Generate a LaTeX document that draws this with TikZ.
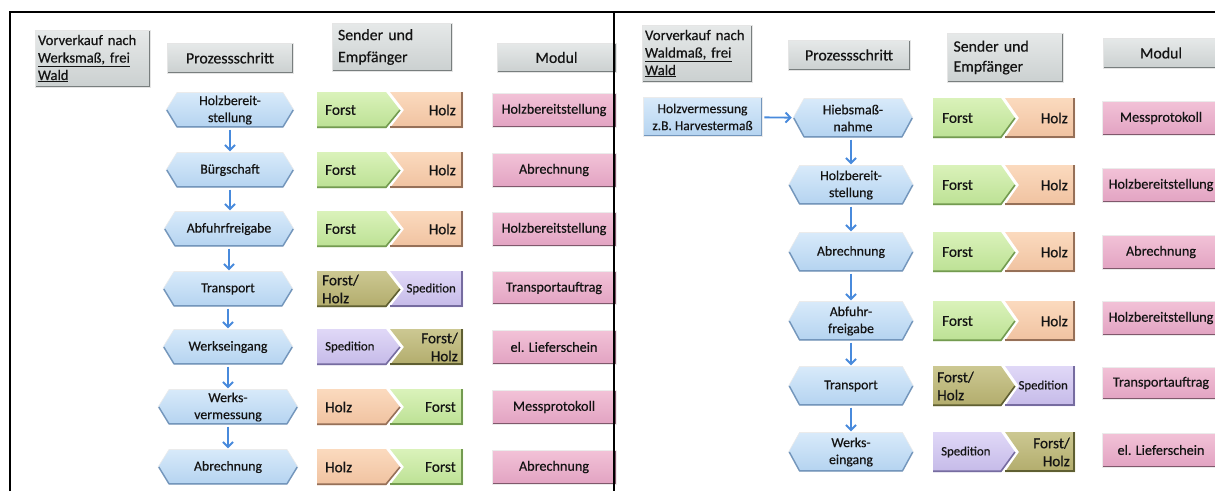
\documentclass[tikz,border=0pt]{standalone}
\usepackage{fontspec}
\setmainfont{Carlito}[FakeBold=0.45]
\usetikzlibrary{arrows.meta}
\definecolor{txt}{RGB}{20,20,20}
\definecolor{grayA}{RGB}{230,233,233}
\definecolor{grayB}{RGB}{203,208,208}
\definecolor{grayE}{RGB}{120,126,126}
\definecolor{blueA}{RGB}{216,234,250}
\definecolor{blueB}{RGB}{180,211,240}
\definecolor{blueE}{RGB}{115,150,188}
\definecolor{greenA}{RGB}{218,242,186}
\definecolor{greenB}{RGB}{188,225,148}
\definecolor{greenE}{RGB}{115,155,80}
\definecolor{orA}{RGB}{251,218,190}
\definecolor{orB}{RGB}{240,194,160}
\definecolor{orE}{RGB}{150,112,88}
\definecolor{olA}{RGB}{204,200,146}
\definecolor{olB}{RGB}{178,172,108}
\definecolor{olE}{RGB}{95,95,50}
\definecolor{puA}{RGB}{224,216,247}
\definecolor{puB}{RGB}{197,186,232}
\definecolor{puE}{RGB}{118,108,160}
\definecolor{piA}{RGB}{242,194,215}
\definecolor{piB}{RGB}{226,163,194}
\definecolor{piE}{RGB}{128,88,108}
\definecolor{arrowblue}{RGB}{72,138,220}
\tikzset{
  bev/.style={path picture={\draw[line width=2.4pt,#1] (path picture bounding box.south west) -- (path picture bounding box.south east) -- (path picture bounding box.north east);}},
  hdr/.style={rectangle, inner sep=0pt, text=txt, top color=grayA, bottom color=grayB, draw=black!10, line width=0.5pt, bev=grayE, font=\fontsize{15.8}{17.5}\selectfont},
  modbox/.style={rectangle, inner sep=0pt, text=txt, top color=piA, bottom color=piB, draw=black!8, line width=0.5pt, bev=piE, font=\fontsize{14.2}{16}\selectfont},
  hvbox/.style={rectangle, inner sep=0pt, text=txt, align=center, top color=blueA, bottom color=blueB, draw=black!8, line width=0.5pt, bev=blueE, font=\fontsize{13.5}{17}\selectfont},
  hextxt/.style={rectangle, inner sep=0pt, text=txt, align=center, font=\fontsize{13.8}{17}\selectfont},
  sndtxt/.style={inner sep=0pt, text=txt, font=\fontsize{15.2}{18}\selectfont},
  spdtxt/.style={inner sep=0pt, text=txt, font=\fontsize{12.8}{15}\selectfont},
  fgr/.style={top color=greenA, bottom color=greenB},
  egr/.style={draw=greenE},
  for/.style={top color=orA, bottom color=orB},
  eor/.style={draw=orE},
  fol/.style={top color=olA, bottom color=olB},
  eol/.style={draw=olE},
  fpu/.style={top color=puA, bottom color=puB},
  epu/.style={draw=puE},
  flow/.style={draw=arrowblue, line width=1.9pt, -{Straight Barb[length=5pt,width=10pt]}, shorten <=2pt, shorten >=1pt},
  framel/.style={line width=1.2pt, black},
}
% hexagon step: name, cx, cy, w, h, text
\newcommand\hexstep[6]{%
  \path[top color=blueA, bottom color=blueB, draw=black!8, line width=0.6pt]
    ({#2-#4/2},#3) -- ({#2-#4/2+11},{#3-#5/2}) -- ({#2+#4/2-11},{#3-#5/2}) -- ({#2+#4/2},#3)
    -- ({#2+#4/2-11},{#3+#5/2}) -- ({#2-#4/2+11},{#3+#5/2}) -- cycle;
  \draw[blueE, line width=1.4pt, line join=round]
    ({#2-#4/2+0.8},#3) -- ({#2-#4/2+11},{#3+#5/2-0.7}) -- ({#2+#4/2-11},{#3+#5/2-0.7}) -- ({#2+#4/2-0.8},#3);
  \node[hextxt, minimum width=#4pt, minimum height=#5pt] (#1) at (#2,#3) {#6};}
% sender/receiver chevron pair: x1, x2, tip, cy, h, colour A, colour B
\newcommand\sendshape[7]{%
  \path[f#7] ({#3-10},{#4-#5/2}) -- (#2,{#4-#5/2}) -- (#2,{#4+#5/2}) -- ({#3-10},{#4+#5/2}) -- ({#3+4},#4) -- cycle;
  \draw[e#7, line width=1.6pt] ({#3-10},{#4+#5/2-0.8}) -- ({#2-0.8},{#4+#5/2-0.8}) -- ({#2-0.8},{#4-#5/2});
  \path[f#6] (#1,{#4-#5/2}) -- ({#3-14},{#4-#5/2}) -- (#3,#4) -- ({#3-14},{#4+#5/2}) -- (#1,{#4+#5/2}) -- cycle;
  \draw[e#6, line width=1.6pt] (#3,#4) -- ({#3-14},{#4+#5/2-0.8}) -- (#1,{#4+#5/2-0.8});}
\begin{document}
\begin{tikzpicture}[x=1pt, y=-1pt]
\useasboundingbox (0,0) rectangle (1215,491);

% ---------------- left panel ----------------
\node[hdr, text width=109pt, inner xsep=3pt, minimum height=57pt, align=left, font=\fontsize{14.6}{17.5}\selectfont] (Lh1) at (92.5,58.5)
  {Vorverkauf nach\\\underline{Werksmaß, frei}\\\underline{Wald}};
\node[hdr, minimum width=126pt, minimum height=30pt] (Lh2) at (230,58) {Prozessschritt};
\node[hdr, text width=108pt, inner xsep=6pt, minimum height=48pt, align=left, font=\fontsize{15.8}{22}\selectfont] (Lh3) at (392,47) {Sender und\\Empfänger};
\node[hdr, minimum width=119pt, minimum height=29pt] (Lh4) at (556.5,57.5) {Modul};

\hexstep{Lp1}{230}{110}{128}{35}{Holzbereit-\\stellung}
\hexstep{Lp2}{230}{170}{128}{35}{Bürgschaft}
\hexstep{Lp3}{229}{229}{130}{35}{Abfuhrfreigabe}
\hexstep{Lp4}{228}{289}{130}{35}{Transport}
\hexstep{Lp5}{228}{347}{130}{35}{Werkseingang}
\hexstep{Lp6}{228}{407}{140}{35}{Werks-\\vermessung}
\hexstep{Lp7}{228}{467}{140}{35}{Abrechnung}

\sendshape{317}{463}{400}{110}{36}{gr}{or}
\sendshape{317}{463}{400}{170}{36}{gr}{or}
\sendshape{317}{463}{400}{229}{36}{gr}{or}
\sendshape{317}{463}{400}{289}{36}{ol}{pu}
\sendshape{317}{463}{400}{347}{36}{pu}{ol}
\sendshape{317}{463}{400}{407}{36}{or}{gr}
\sendshape{317}{463}{400}{467}{36}{or}{gr}

\node[sndtxt, anchor=west] (Ls1a) at (325,110) {Forst};
\node[sndtxt, anchor=east] (Ls1b) at (456,110) {Holz};
\node[sndtxt, anchor=west] (Ls2a) at (325,170) {Forst};
\node[sndtxt, anchor=east] (Ls2b) at (456,170) {Holz};
\node[sndtxt, anchor=west] (Ls3a) at (325,229) {Forst};
\node[sndtxt, anchor=east] (Ls3b) at (456,229) {Holz};
\node[sndtxt, anchor=west, align=left] (Ls4a) at (322,289) {Forst/\\Holz};
\node[spdtxt, anchor=east] (Ls4b) at (456,289) {Spedition};
\node[spdtxt, anchor=west] (Ls5a) at (325,347) {Spedition};
\node[sndtxt, anchor=east, align=right] (Ls5b) at (458,347) {Forst/\\Holz};
\node[sndtxt, anchor=west] (Ls6a) at (325,407) {Holz};
\node[sndtxt, anchor=east] (Ls6b) at (456,407) {Forst};
\node[sndtxt, anchor=west] (Ls7a) at (325,467) {Holz};
\node[sndtxt, anchor=east] (Ls7b) at (456,467) {Forst};

\node[modbox, minimum width=124pt, minimum height=34pt] (Lm1) at (554,110) {Holzbereitstellung};
\node[modbox, minimum width=124pt, minimum height=34pt] (Lm2) at (554,170) {Abrechnung};
\node[modbox, minimum width=124pt, minimum height=34pt] (Lm3) at (554,229) {Holzbereitstellung};
\node[modbox, minimum width=124pt, minimum height=33pt] (Lm4) at (554,288) {Transportauftrag};
\node[modbox, minimum width=124pt, minimum height=34pt] (Lm5) at (554,347) {el. Lieferschein};
\node[modbox, minimum width=124pt, minimum height=34pt] (Lm6) at (554,407) {Messprotokoll};
\node[modbox, minimum width=124pt, minimum height=34pt] (Lm7) at (554,467) {Abrechnung};

\draw[flow] (Lp1) -- (Lp1 |- Lp2.north);
\draw[flow] (Lp2) -- (Lp2 |- Lp3.north);
\draw[flow] (Lp3) -- (Lp3 |- Lp4.north);
\draw[flow] (Lp4) -- (Lp4 |- Lp5.north);
\draw[flow] (Lp5) -- (Lp5 |- Lp6.north);
\draw[flow] (Lp6) -- (Lp7);

% ---------------- right panel ----------------
\node[hdr, text width=104pt, inner xsep=3pt, minimum height=57pt, align=left, font=\fontsize{14.8}{17.5}\selectfont] (Rh1) at (697,53.5)
  {Vorverkauf nach\\\underline{Waldmaß, frei}\\\underline{Wald}};
\node[hdr, minimum width=122pt, minimum height=30pt] (Rh2) at (849,55) {Prozessschritt};
\node[hdr, text width=104pt, inner xsep=6pt, minimum height=49pt, align=left, font=\fontsize{15.8}{20}\selectfont] (Rh3) at (1005.5,57.5) {Sender und\\Empfänger};
\node[hdr, minimum width=116pt, minimum height=30pt] (Rh4) at (1161,53) {Modul};

\node[hvbox, minimum width=119pt, minimum height=39pt] (Rhv) at (702.5,117) {Holzvermessung\\z.B. Harvestermaß};

\hexstep{Rp1}{853}{118}{120}{39}{Hiebsmaß-\\nahme}
\hexstep{Rp2}{851}{185}{125}{39}{Holzbereit-\\stellung}
\hexstep{Rp3}{851}{252}{125}{39}{Abrechnung}
\hexstep{Rp4}{851}{321}{125}{39}{Abfuhr-\\freigabe}
\hexstep{Rp5}{851}{386}{125}{39}{Transport}
\hexstep{Rp6}{851}{452}{125}{39}{Werks-\\eingang}

\sendshape{933}{1075}{1015}{118}{40}{gr}{or}
\sendshape{933}{1075}{1015}{185}{40}{gr}{or}
\sendshape{933}{1075}{1015}{252}{40}{gr}{or}
\sendshape{933}{1075}{1015}{321}{40}{gr}{or}
\sendshape{933}{1075}{1015}{386}{40}{ol}{pu}
\sendshape{933}{1075}{1015}{452}{40}{pu}{ol}

\node[sndtxt, anchor=west] (Rs1a) at (942,118) {Forst};
\node[sndtxt, anchor=east] (Rs1b) at (1068,118) {Holz};
\node[sndtxt, anchor=west] (Rs2a) at (942,185) {Forst};
\node[sndtxt, anchor=east] (Rs2b) at (1068,185) {Holz};
\node[sndtxt, anchor=west] (Rs3a) at (942,252) {Forst};
\node[sndtxt, anchor=east] (Rs3b) at (1068,252) {Holz};
\node[sndtxt, anchor=west] (Rs4a) at (942,321) {Forst};
\node[sndtxt, anchor=east] (Rs4b) at (1068,321) {Holz};
\node[sndtxt, anchor=west, align=left] (Rs5a) at (937,386) {Forst/\\Holz};
\node[spdtxt, anchor=east] (Rs5b) at (1068,386) {Spedition};
\node[spdtxt, anchor=west] (Rs6a) at (941,452) {Spedition};
\node[sndtxt, anchor=east, align=right] (Rs6b) at (1070,452) {Forst/\\Holz};

\node[modbox, minimum width=118pt, minimum height=34pt] (Rm1) at (1161,118) {Messprotokoll};
\node[modbox, minimum width=118pt, minimum height=34pt] (Rm2) at (1161,185) {Holzbereitstellung};
\node[modbox, minimum width=118pt, minimum height=34pt] (Rm3) at (1161,252) {Abrechnung};
\node[modbox, minimum width=118pt, minimum height=34pt] (Rm4) at (1161,318) {Holzbereitstellung};
\node[modbox, minimum width=118pt, minimum height=32pt] (Rm5) at (1161,383) {Transportauftrag};
\node[modbox, minimum width=118pt, minimum height=34pt] (Rm6) at (1161,450) {el. Lieferschein};

\draw[flow] (Rhv) -- (Rp1);
\draw[flow] (Rp1.south -| Rp2) -- (Rp2);
\draw[flow] (Rp2) -- (Rp3);
\draw[flow] (Rp3) -- (Rp4);
\draw[flow] (Rp4) -- (Rp5);
\draw[flow] (Rp5) -- (Rp6);

% ---------------- frame ----------------
\draw[framel] (10,491) -- (10,12) -- (1215,12);
\draw[framel] (614,12) -- (614,491);
\draw[line width=2.2pt] (10,12) -- (24,12);
\draw[line width=2.2pt] (614,12) -- (627,12);
\end{tikzpicture}
\end{document}
